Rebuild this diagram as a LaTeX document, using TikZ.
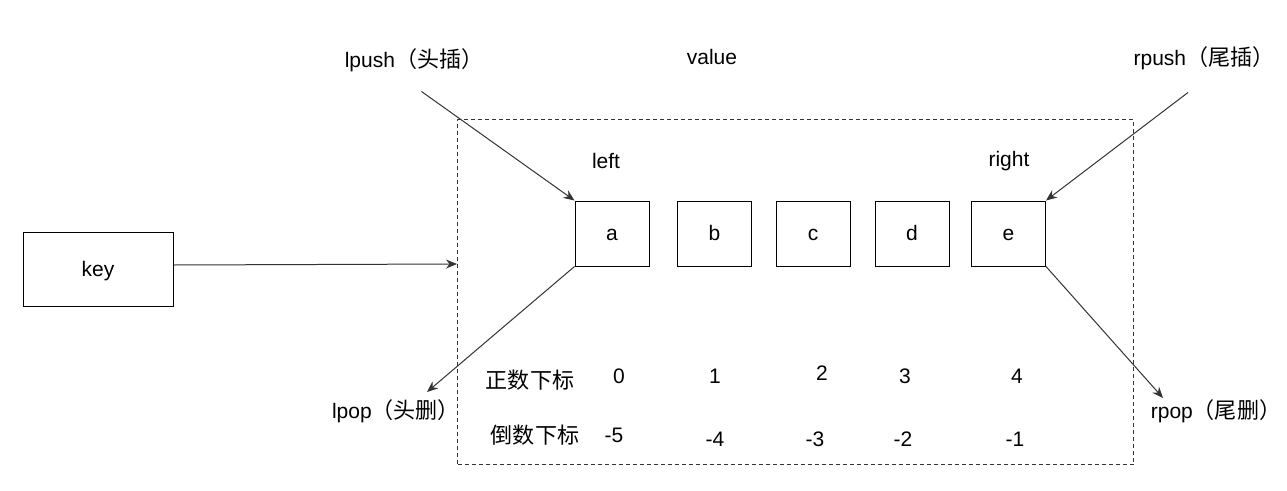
\documentclass[tikz,border=0pt]{standalone}
\usepackage{fontspec}
\setmainfont{Liberation Sans}
\newfontfamily\cjk[Scale=1.05]{Noto Sans CJK SC}
\usetikzlibrary{arrows.meta}
\definecolor{ln}{HTML}{333333}
\tikzset{
  lbl/.style={inner sep=0pt, font=\fontsize{21}{25}\selectfont},
  boxtext/.style={lbl, text height=14pt, text depth=1pt},
  cell/.style={draw=black, line width=1pt, minimum width=74pt, minimum height=65pt, inner sep=0pt, boxtext},
  arr/.style={draw=ln, line width=1pt, -{Stealth[length=11pt,width=9pt]}},
}
\begin{document}
\begin{tikzpicture}[x=1pt,y=-1pt]
\useasboundingbox (0,0) rectangle (1287,490);
% dashed container
\node[draw=ln, dashed, dash pattern=on 4pt off 3pt, line width=1pt, minimum width=676pt, minimum height=345pt, inner sep=0pt, anchor=north west] (val) at (457,119) {};
% key
\node[draw=black, line width=1pt, minimum width=150pt, minimum height=74pt, inner sep=0pt, boxtext] (key) at (98,269.5) {key};
% cells
\node[cell] (a) at (612,233.5) {a};
\node[cell] (b) at (714.5,233.5) {b};
\node[cell] (c) at (813,233.5) {c};
\node[cell] (d) at (912,233.5) {d};
\node[cell] (e) at (1008.5,233.5) {e};
% labels
\node[lbl] (lpush) at (414,60) {lpush{\cjk（头插）}};
\node[lbl] (value) at (712,57) {value};
\node[lbl] (rpush) at (1204,58) {rpush{\cjk（尾插）}};
\node[lbl] (left) at (606,161) {left};
\node[lbl] (right) at (1009,161) {right};
\node[lbl] (lpop) at (396,411) {lpop{\cjk（头删）}};
\node[lbl] (rpop) at (1216,411) {rpop{\cjk（尾删）}};
\node[lbl] (pos) at (530,380) {\cjk 正数下标};
\node[lbl] (neg) at (535,435) {\cjk 倒数下标};
\node[lbl] (p0) at (619,376) {0};
\node[lbl] (p1) at (715,376) {1};
\node[lbl] (p2) at (822,373) {2};
\node[lbl] (p3) at (905,376) {3};
\node[lbl] (p4) at (1017,376) {4};
\node[lbl] (n5) at (614,435) {-5};
\node[lbl] (n4) at (715,439) {-4};
\node[lbl] (n3) at (815,439) {-3};
\node[lbl] (n2) at (903,439) {-2};
\node[lbl] (n1) at (1015,439) {-1};
% connector endpoints
\coordinate (lpushS) at (421.5,91.5);
\coordinate (rpushS) at (1188,92.5);
\coordinate (lpopE) at (427,392);
\coordinate (rpopE) at (1163,398);
\coordinate (keyE) at (457,264);
% connectors
\draw[arr] (lpushS) -- (a.north west);
\draw[arr] (rpushS) -- (e.north east);
\draw[arr] (a.south west) -- (lpopE);
\draw[arr] (e.south east) -- (rpopE);
\draw[arr] ([yshift=4.5pt]key.east) -- (keyE);
\end{tikzpicture}
\end{document}
